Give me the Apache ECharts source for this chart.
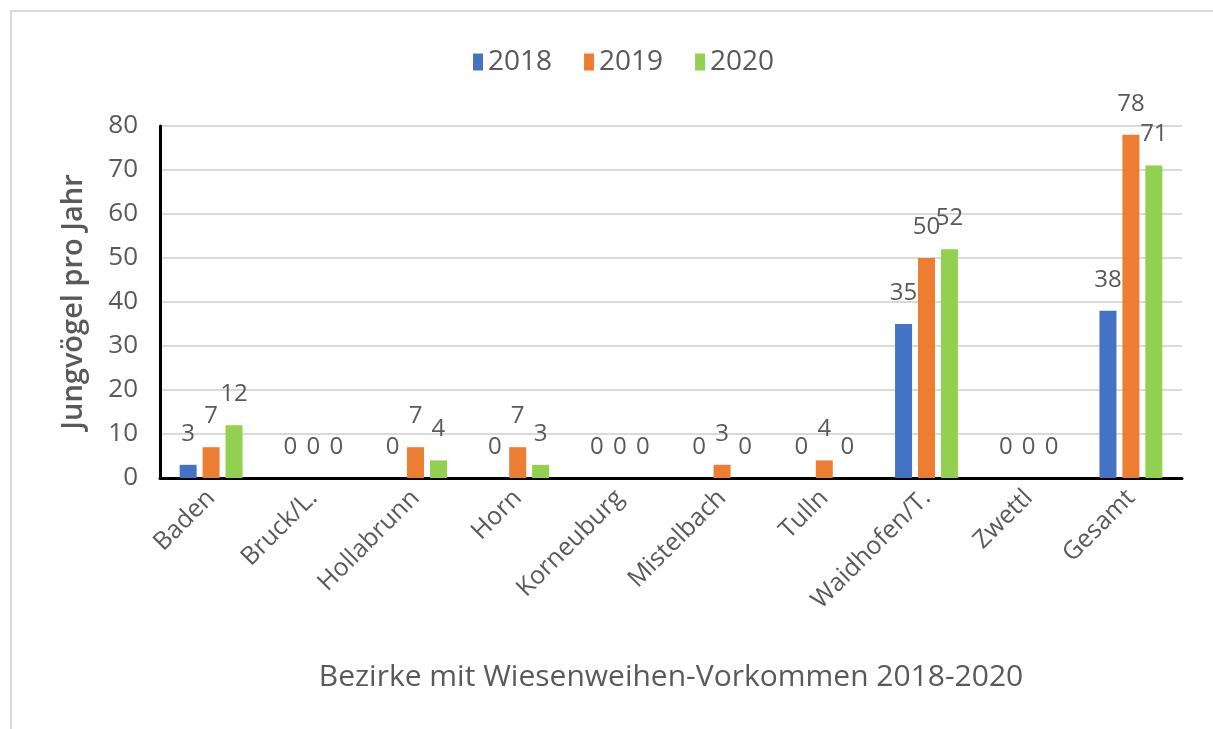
<!DOCTYPE html>
<html>
<head>
<meta charset="utf-8">
<script src="https://cdn.jsdelivr.net/npm/echarts@6/dist/echarts.min.js"></script>
<style>
  html, body { margin: 0; padding: 0; background: #fff; }
  #frame { position: absolute; left: 10px; top: 10px; width: 1203px; height: 719px;
           border-top: 2px solid #d9d9d9; border-left: 2px solid #d9d9d9; box-sizing: border-box; }
  #demoChart { position: absolute; left: 0; top: 0; width: 1213px; height: 729px; }
</style>
</head>
<body>
<div id="frame"></div>
<div id="demoChart"></div>
<script>
// Bezirke
var categories = ['Baden', 'Bruck/L.', 'Hollabrunn', 'Horn', 'Korneuburg', 'Mistelbach', 'Tulln', 'Waidhofen/T.', 'Zwettl', 'Gesamt'];
var years = ['2018', '2019', '2020'];
var data2018 = [3, 0, 0, 0, 0, 0, 0, 35, 0, 38];
var data2019 = [7, 0, 7, 7, 0, 3, 4, 50, 0, 78];
var data2020 = [12, 0, 4, 3, 0, 0, 0, 52, 0, 71];
var colors = ['#4472C4', '#ED7D31', '#92D050'];

var FONT = 'Open Sans';
var GREY = '#595959';

var myChart = echarts.init(document.getElementById('demoChart'));

function bar(name, values, color) {
    return {
        name: name,
        type: 'bar',
        data: values,
        barWidth: 17,
        barGap: '35%',
        itemStyle: { color: color },
        label: {
            show: true,
            position: 'top',
            distance: 19,
            color: GREY,
            fontFamily: FONT,
            fontSize: 24
        }
    };
}

var option = {
    animation: false,
    color: colors,
    legend: {
        top: 43,
        left: 468,
        itemWidth: 10,
        itemHeight: 17,
        itemGap: 32,
        icon: 'rect',
        textStyle: { color: GREY, fontFamily: FONT, fontSize: 28 },
        data: years
    },
    grid: { left: 160, right: 31, top: 126, bottom: 251 },
    xAxis: {
        type: 'category',
        data: categories,
        axisLine: { lineStyle: { color: '#000', width: 3 } },
        axisTick: { show: false },
        axisLabel: {
            rotate: 45,
            interval: 0,
            margin: 16,
            color: GREY,
            fontFamily: FONT,
            fontSize: 25
        },
        name: 'Bezirke mit Wiesenweihen-Vorkommen 2018-2020',
        nameLocation: 'middle',
        nameGap: 184,
        nameTextStyle: { color: GREY, fontFamily: FONT, fontSize: 30 }
    },
    yAxis: {
        type: 'value',
        min: 0,
        max: 80,
        interval: 10,
        axisLine: { show: true, lineStyle: { color: '#000', width: 3 } },
        splitLine: { lineStyle: { color: '#d9d9d9', width: 2 } },
        axisLabel: { margin: 22, color: GREY, fontFamily: FONT, fontSize: 26 },
        name: 'Jungvögel pro Jahr',
        nameLocation: 'middle',
        nameGap: 72,
        nameTextStyle: { color: GREY, fontFamily: FONT, fontSize: 29, fontWeight: 600 }
    },
    series: [
        bar(years[0], data2018, colors[0]),
        bar(years[1], data2019, colors[1]),
        bar(years[2], data2020, colors[2])
    ]
};
myChart.setOption(option);
</script>
</body>
</html>
